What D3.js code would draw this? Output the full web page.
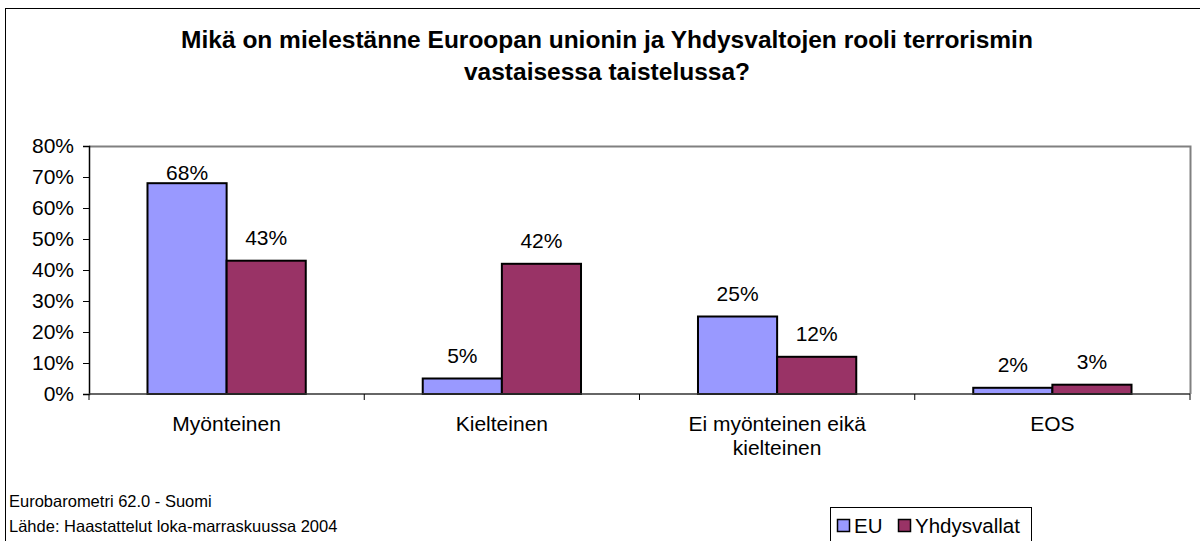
<!DOCTYPE html>
<html>
<head>
<meta charset="utf-8">
<script src="https://cdn.jsdelivr.net/npm/d3@7"></script>
<style>
  body { margin: 0; background: #fff; }
  svg { display: block; font-family: Arial, "Liberation Sans", sans-serif; }
</style>
</head>
<body>
<svg width="1200" height="541"></svg>
<script>
// Data
const categories = ["Myönteinen", "Kielteinen", "Ei myönteinen eikä\nkielteinen", "EOS"];
const seriesNames = ["EU", "Yhdysvallat"];
const euValues = [68, 5, 25, 2];
const usValues = [43, 42, 12, 3];
const yTicks = [0, 10, 20, 30, 40, 50, 60, 70, 80];
const titleLines = ["Mikä on mielestänne Euroopan unionin ja Yhdysvaltojen rooli terrorismin", "vastaisessa taistelussa?"];
const footLines = ["Eurobarometri 62.0 - Suomi", "Lähde: Haastattelut loka-marraskuussa 2004"];

const colors = ["#9999FF", "#993366"];
const series = [euValues, usValues];

const svg = d3.select("svg");

// outer frame (right and bottom edges fall outside the picture)
svg.append("rect")
  .attr("x", 5.5).attr("y", 8.5)
  .attr("width", 1210).attr("height", 560)
  .attr("fill", "none").attr("stroke", "#000").attr("stroke-width", 1);

// title
svg.append("g").selectAll("text")
  .data(titleLines)
  .enter().append("text")
  .attr("x", 607)
  .attr("y", (d, i) => 48 + i * 32)
  .attr("text-anchor", "middle")
  .style("font-size", "24.5px")
  .style("font-weight", "bold")
  .text(d => d);

const plot = { left: 89, right: 1190, top: 146, bottom: 394 };

const x = d3.scaleBand()
  .domain(d3.range(categories.length))
  .range([plot.left, plot.right]);

const barW = x.bandwidth() * 0.2875;

const y = d3.scaleLinear()
  .domain([0, 80])
  .range([plot.bottom, plot.top]);

// plot area border (top and right, gray)
svg.append("path")
  .attr("d", `M${plot.left},${plot.top + 0.5}H${plot.right + 0.5}V${plot.bottom}`)
  .attr("fill", "none")
  .attr("stroke", "#808080")
  .attr("stroke-width", 2);

// bars
const groups = svg.append("g").selectAll("g")
  .data(series)
  .enter().append("g")
  .attr("fill", (d, i) => colors[i]);

groups.each(function(vals, s) {
  d3.select(this).selectAll("rect")
    .data(vals)
    .enter().append("rect")
    .attr("x", (d, i) => x(i) + x.bandwidth() / 2 - barW + s * barW)
    .attr("y", d => y(d))
    .attr("width", barW)
    .attr("height", d => y(0) - y(d))
    .attr("stroke", "#000")
    .attr("stroke-width", 2);
});

// value labels
groups.each(function(vals, s) {
  d3.select(this).selectAll("text")
    .data(vals)
    .enter().append("text")
    .attr("x", (d, i) => x(i) + x.bandwidth() / 2 - barW / 2 + s * barW)
    .attr("y", d => Math.max(y(d) - 16, plot.top + 34))
    .attr("text-anchor", "middle")
    .attr("fill", "#000")
    .style("font-size", "21px")
    .text(d => d + "%");
});

// y axis
const yAxis = svg.append("g")
  .attr("transform", `translate(${plot.left},0)`)
  .call(d3.axisLeft(y).tickValues(yTicks).tickSize(6).tickPadding(9).tickFormat(d => d + "%"));
yAxis.select(".domain").attr("stroke", "#000").attr("stroke-width", 1.5);
yAxis.selectAll("line").attr("stroke", "#000");
yAxis.selectAll("text")
  .style("font-size", "21px")
  .style("font-family", "Arial, 'Liberation Sans', sans-serif")
  .attr("fill", "#000");

// x axis with ticks at category boundaries
const xAxisG = svg.append("g");
xAxisG.append("line")
  .attr("x1", plot.left).attr("x2", plot.right)
  .attr("y1", plot.bottom).attr("y2", plot.bottom)
  .attr("stroke", "#333").attr("stroke-width", 1.5);
xAxisG.selectAll("line.tick")
  .data(d3.range(categories.length + 1))
  .enter().append("line")
  .attr("class", "tick")
  .attr("x1", i => plot.left + i * x.step())
  .attr("x2", i => plot.left + i * x.step())
  .attr("y1", plot.bottom).attr("y2", plot.bottom + 6)
  .attr("stroke", "#000");

const catLabels = xAxisG.selectAll("text.cat")
  .data(categories)
  .enter().append("text")
  .attr("class", "cat")
  .attr("text-anchor", "middle")
  .style("font-size", "21px");
catLabels.each(function(d, i) {
  d.split("\n").forEach((line, j) => {
    d3.select(this).append("tspan")
      .attr("x", x(i) + x.bandwidth() / 2)
      .attr("y", 431 + j * 24)
      .text(line);
  });
});

// footnote
svg.append("g").selectAll("text")
  .data(footLines)
  .enter().append("text")
  .attr("x", 9)
  .attr("y", (d, i) => 507 + i * 25)
  .style("font-size", "16.5px")
  .text(d => d);

// legend
const legend = svg.append("g").attr("transform", "translate(830,507)");
legend.append("rect")
  .attr("x", 0.5).attr("y", 0.5)
  .attr("width", 201).attr("height", 40)
  .attr("fill", "#fff").attr("stroke", "#000");
const legendX = [7, 68];
const items = legend.selectAll("g.item")
  .data(seriesNames)
  .enter().append("g")
  .attr("class", "item")
  .attr("transform", (d, i) => `translate(${legendX[i]},0)`);
items.append("rect")
  .attr("x", 0.5).attr("y", 12.5)
  .attr("width", 12).attr("height", 12)
  .attr("fill", (d, i) => colors[i])
  .attr("stroke", "#000").attr("stroke-width", 1.5);
items.append("text")
  .attr("x", 17).attr("y", 26)
  .style("font-size", "20.5px")
  .text(d => d);
</script>
</body>
</html>
